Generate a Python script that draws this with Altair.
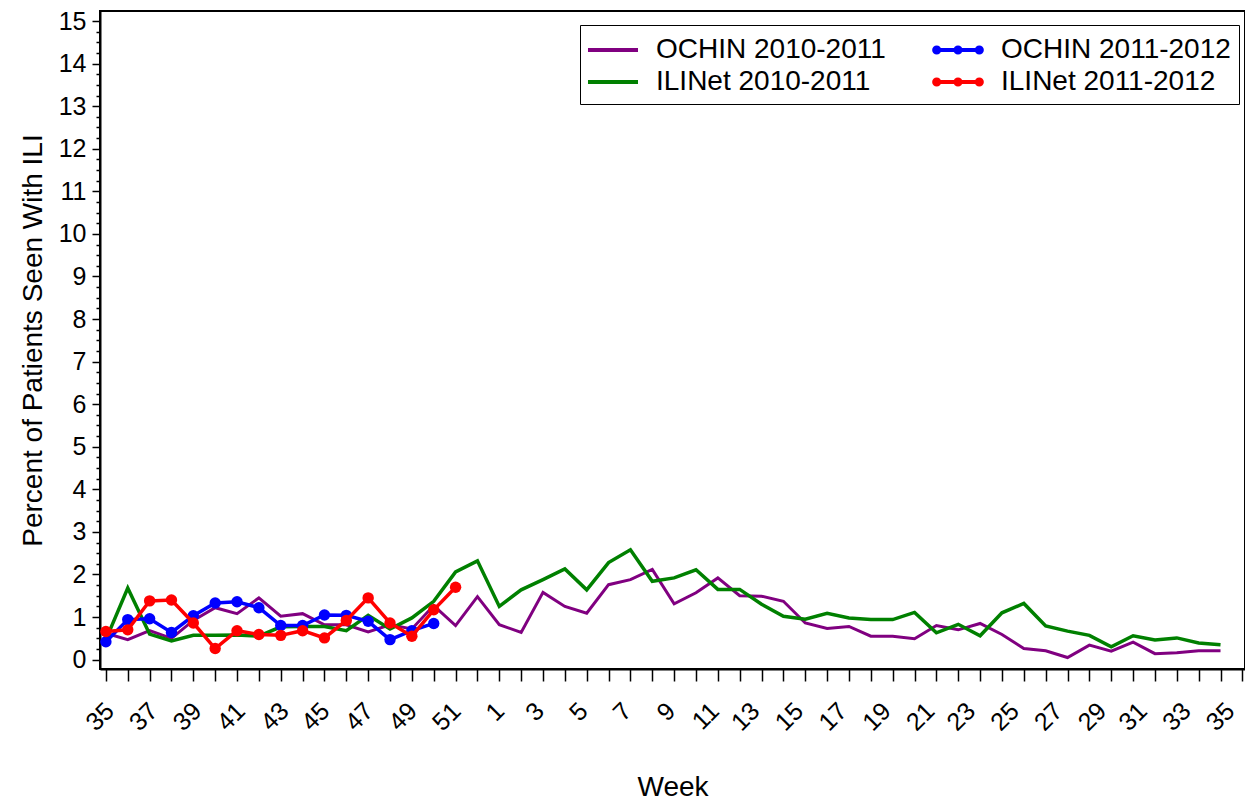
import json
import altair as alt
import pandas as pd

# Week labels along the x axis (season runs from week 35 to week 35)
weeks = [35, 36, 37, 38, 39, 40, 41, 42, 43, 44, 45, 46, 47, 48, 49, 50, 51, 52,
         1, 2, 3, 4, 5, 6, 7, 8, 9, 10, 11, 12, 13, 14, 15, 16, 17, 18, 19, 20,
         21, 22, 23, 24, 25, 26, 27, 28, 29, 30, 31, 32, 33, 34, 35]

ochin_2010_2011 = [0.62, 0.47, 0.68, 0.50, 0.92, 1.22, 1.08, 1.45, 1.02, 1.08,
                   0.82, 0.82, 0.65, 0.82, 0.72, 1.27, 0.80, 1.48, 0.82, 0.64,
                   1.58, 1.25, 1.09, 1.76, 1.88, 2.12, 1.31, 1.57, 1.92, 1.50,
                   1.49, 1.37, 0.86, 0.73, 0.78, 0.55, 0.55, 0.49, 0.80, 0.70,
                   0.85, 0.59, 0.26, 0.21, 0.05, 0.34, 0.20, 0.41, 0.14, 0.16,
                   0.21, 0.21]

ilinet_2010_2011 = [0.47, 1.68, 0.60, 0.44, 0.57, 0.57, 0.58, 0.55, 0.77, 0.78,
                    0.78, 0.68, 1.04, 0.72, 0.98, 1.37, 2.06, 2.32, 1.25, 1.64,
                    1.88, 2.13, 1.64, 2.28, 2.58, 1.84, 1.92, 2.11, 1.65, 1.65,
                    1.30, 1.02, 0.95, 1.09, 0.98, 0.94, 0.94, 1.11, 0.63, 0.83,
                    0.56, 1.10, 1.32, 0.79, 0.67, 0.57, 0.30, 0.56, 0.46, 0.51,
                    0.39, 0.35]

ochin_2011_2012 = [0.42, 0.94, 0.96, 0.64, 1.03, 1.33, 1.36, 1.22, 0.80, 0.80,
                   1.05, 1.04, 0.90, 0.47, 0.68, 0.85]

ilinet_2011_2012 = [0.66, 0.70, 1.38, 1.40, 0.86, 0.26, 0.68, 0.59, 0.57, 0.68,
                    0.51, 0.92, 1.45, 0.86, 0.55, 1.17, 1.70]

# legend order (filled column by column)
series_names = ["OCHIN 2010-2011", "ILINet 2010-2011", "OCHIN 2011-2012", "ILINet 2011-2012"]
series_colors = ["#800080", "#008000", "#0000ff", "#ff0000"]
series_values = [ochin_2010_2011, ilinet_2010_2011, ochin_2011_2012, ilinet_2011_2012]

y_ticks = [i / 4 for i in range(61)]

LINE = "M-1.667,0L1.667,0"
DOTS = ("M-1.667,0L1.667,0"
        "M-1.25,0A0.17,0.17,0,1,1,-1.59,0A0.17,0.17,0,1,1,-1.25,0"
        "M0.17,0A0.17,0.17,0,1,1,-0.17,0A0.17,0.17,0,1,1,0.17,0"
        "M1.59,0A0.17,0.17,0,1,1,1.25,0A0.17,0.17,0,1,1,1.59,0")
legend_shapes = [LINE, LINE, DOTS, DOTS]

rows = []
for name, vals in zip(series_names, series_values):
    for i, v in enumerate(vals):
        rows.append({"idx": i, "week": weeks[i], "value": v, "series": name})
df = pd.DataFrame(rows)

FONT = "Liberation Sans"
week_labels = json.dumps([str(w) for w in weeks])

# labels drift slightly left of their ticks towards the right end, as in the original
label_shift = {
    "condition": [
        {"test": "datum.value < 9", "value": -5},
        {"test": "datum.value < 19", "value": -8},
        {"test": "datum.value < 29", "value": -12},
        {"test": "datum.value < 39", "value": -15},
        {"test": "datum.value < 47", "value": -18},
    ],
    "value": -21,
}

x_axis = alt.Axis(
    values=list(range(len(weeks))),
    labelExpr=f"datum.value % 2 === 0 ? {week_labels}[datum.value] : ''",
    labelAngle=315, labelAlign="right", labelBaseline="top",
    labelFontSize=25, labelPadding=17, labelOffset=label_shift,
    labelOverlap=False, labelFlush=False,
    labelBound=False, tickSize=12, tickWidth=1.5, tickColor="black",
    domainColor="black", domainWidth=2, grid=False,
    titleFontSize=28, titleFontWeight="normal", titlePadding=38,
)
y_axis = alt.Axis(
    values=y_ticks,
    labelExpr="datum.value % 1 === 0 ? format(datum.value, 'd') : ''",
    labelFontSize=25, labelPadding=6, labelOverlap=False, labelFlush=False,
    tickSize={"condition": {"test": "datum.value % 1 === 0", "value": 8}, "value": 4},
    tickWidth=1.5, tickColor="black",
    domainColor="black", domainWidth=2, grid=False,
    titleFontSize=28, titleFontWeight="normal", titlePadding=11,
)

x_enc = alt.X("idx:Q", scale=alt.Scale(domain=[-0.27, 52.12], nice=False, zero=False),
              axis=x_axis, title="Week")
y_enc = alt.Y("value:Q", scale=alt.Scale(domain=[-0.22, 15.235], nice=False, zero=False),
              axis=y_axis, title="Percent of Patients Seen With ILI")

base = alt.Chart(df).encode(x=x_enc, y=y_enc)


def only(name):
    return base.transform_filter(alt.datum.series == name)


purple = only("OCHIN 2010-2011").mark_line(color="#800080", strokeWidth=3)
green = only("ILINet 2010-2011").mark_line(color="#008000", strokeWidth=3.5)
blue_line = only("OCHIN 2011-2012").mark_line(color="#0000ff", strokeWidth=3.5)
blue_pts = only("OCHIN 2011-2012").mark_circle(color="#0000ff", size=130, opacity=1)
red_line = only("ILINet 2011-2012").mark_line(color="#ff0000", strokeWidth=3.5)
red_pts = only("ILINet 2011-2012").mark_circle(color="#ff0000", size=130, opacity=1)

leg = alt.Legend(
    title=None, orient="none", legendX=480, legendY=14, columns=2,
    columnPadding=38, rowPadding=1, padding=8,
    labelFontSize=28, labelFont=FONT, labelColor="black",
    labelOffset=26, symbolOffset=8, labelLimit=0,
    symbolSize=900, symbolStrokeWidth=4,
    strokeColor="black", fillColor="white",
)

legend_layer = base.transform_filter("false").mark_point(
    filled=False, strokeWidth=4, opacity=1
).encode(
    color=alt.Color("series:N", scale=alt.Scale(domain=series_names, range=series_colors), legend=leg),
    shape=alt.Shape("series:N", scale=alt.Scale(domain=series_names, range=legend_shapes), legend=leg),
)

chart = alt.layer(
    purple, green, blue_line, blue_pts, red_line, red_pts, legend_layer
).properties(
    width=1145, height=658,
    padding={"left": 92, "top": 3, "right": 0, "bottom": 135},
    autosize=alt.AutoSizeParams(type="none"),
    background="white",
).configure_view(
    stroke="black", strokeWidth=2
).configure_axis(
    labelFont=FONT, titleFont=FONT, labelColor="black", titleColor="black"
)

chart.save("out.html", embed_options={"renderer": "svg", "actions": False})
